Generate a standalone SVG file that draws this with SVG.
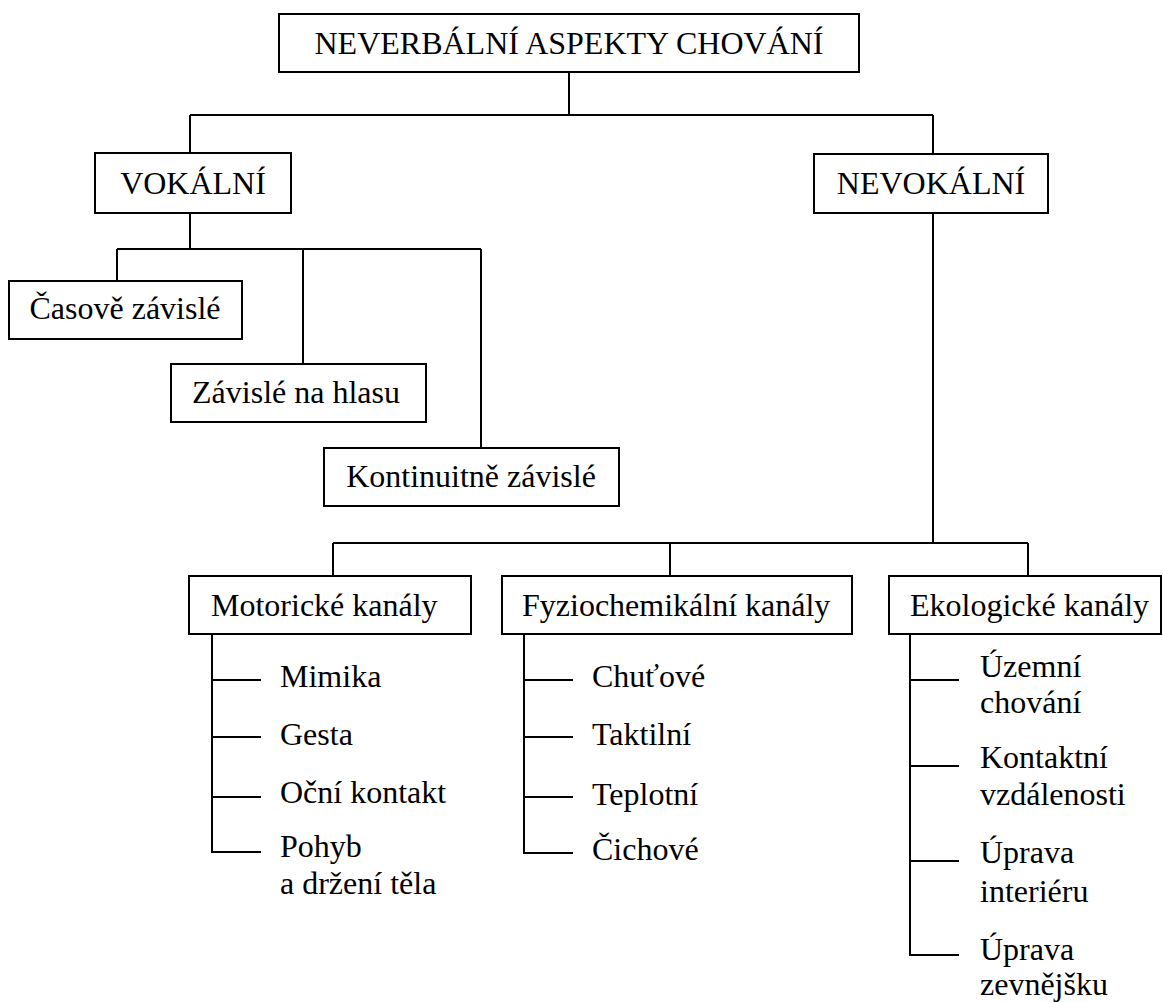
<svg xmlns="http://www.w3.org/2000/svg" width="1163" height="1002" viewBox="0 0 1163 1002">
<style>
rect{fill:#fff;stroke:#000;stroke-width:2}
text{font-family:"Liberation Serif","Times New Roman",serif;font-size:32px;fill:#000}
.c{text-anchor:middle}
#connectors path{fill:none;stroke:#000;stroke-width:2}
</style>
<rect x="0" y="0" width="1163" height="1002" style="fill:#fff;stroke:none"/>
<g id="connectors">
<path d="M569,72V115M190,115H933M190,115V153M933,115V154"/>
<path d="M190,213V249M117,249H481M117,249V281M303,249V364M481,249V448"/>
<path d="M933,213V543M333,543H1028M333,543V576M670,543V576M1028,543V576"/>
<path d="M212,634V852H261M212,680H261M212,737H261M212,797H261"/>
<path d="M524,634V853H573M524,680H573M524,737H573M524,797H573"/>
<path d="M910,634V955H959M910,680H959M910,766H959M910,861H959"/>
</g>
<g id="root"><rect x="279" y="14" width="580" height="58"/><text class="c" x="569" y="54">NEVERBÁLNÍ ASPEKTY CHOVÁNÍ</text></g>
<g id="vokalni"><rect x="95" y="153" width="196" height="60"/><text class="c" x="193" y="194">VOKÁLNÍ</text></g>
<g id="nevokalni"><rect x="814" y="154" width="234" height="59"/><text class="c" x="931" y="194">NEVOKÁLNÍ</text></g>
<g id="casove"><rect x="9" y="281" width="233" height="58"/><text class="c" x="125" y="319">Časově závislé</text></g>
<g id="hlas"><rect x="171" y="364" width="255" height="58"/><text class="c" x="296" y="403">Závislé na hlasu</text></g>
<g id="kontinuitne"><rect x="324" y="448" width="295" height="58"/><text class="c" x="471" y="487">Kontinuitně závislé</text></g>
<g id="motoricke"><rect x="189" y="576" width="282" height="58"/><text x="211" y="616">Motorické kanály</text></g>
<g id="fyzio"><rect x="502" y="576" width="350" height="58"/><text x="522" y="616">Fyziochemikální kanály</text></g>
<g id="ekologicke"><rect x="889" y="576" width="272" height="58"/><text x="910" y="616">Ekologické kanály</text></g>
<g id="mimika"><text x="280" y="687">Mimika</text></g>
<g id="gesta"><text x="280" y="745">Gesta</text></g>
<g id="ocni"><text x="280" y="803">Oční kontakt</text></g>
<g id="pohyb"><text x="280" y="857">Pohyb</text><text x="280" y="894">a držení těla</text></g>
<g id="chutove"><text x="592" y="687">Chuťové</text></g>
<g id="taktilni"><text x="592" y="745">Taktilní</text></g>
<g id="teplotni"><text x="592" y="805">Teplotní</text></g>
<g id="cichove"><text x="592" y="860">Čichové</text></g>
<g id="uzemni"><text x="980" y="677">Územní</text><text x="980" y="713">chování</text></g>
<g id="kontaktni"><text x="980" y="768">Kontaktní</text><text x="980" y="805">vzdálenosti</text></g>
<g id="interier"><text x="980" y="863">Úprava</text><text x="980" y="902">interiéru</text></g>
<g id="zevnejsek"><text x="980" y="960">Úprava</text><text x="980" y="995">zevnějšku</text></g>
</svg>
